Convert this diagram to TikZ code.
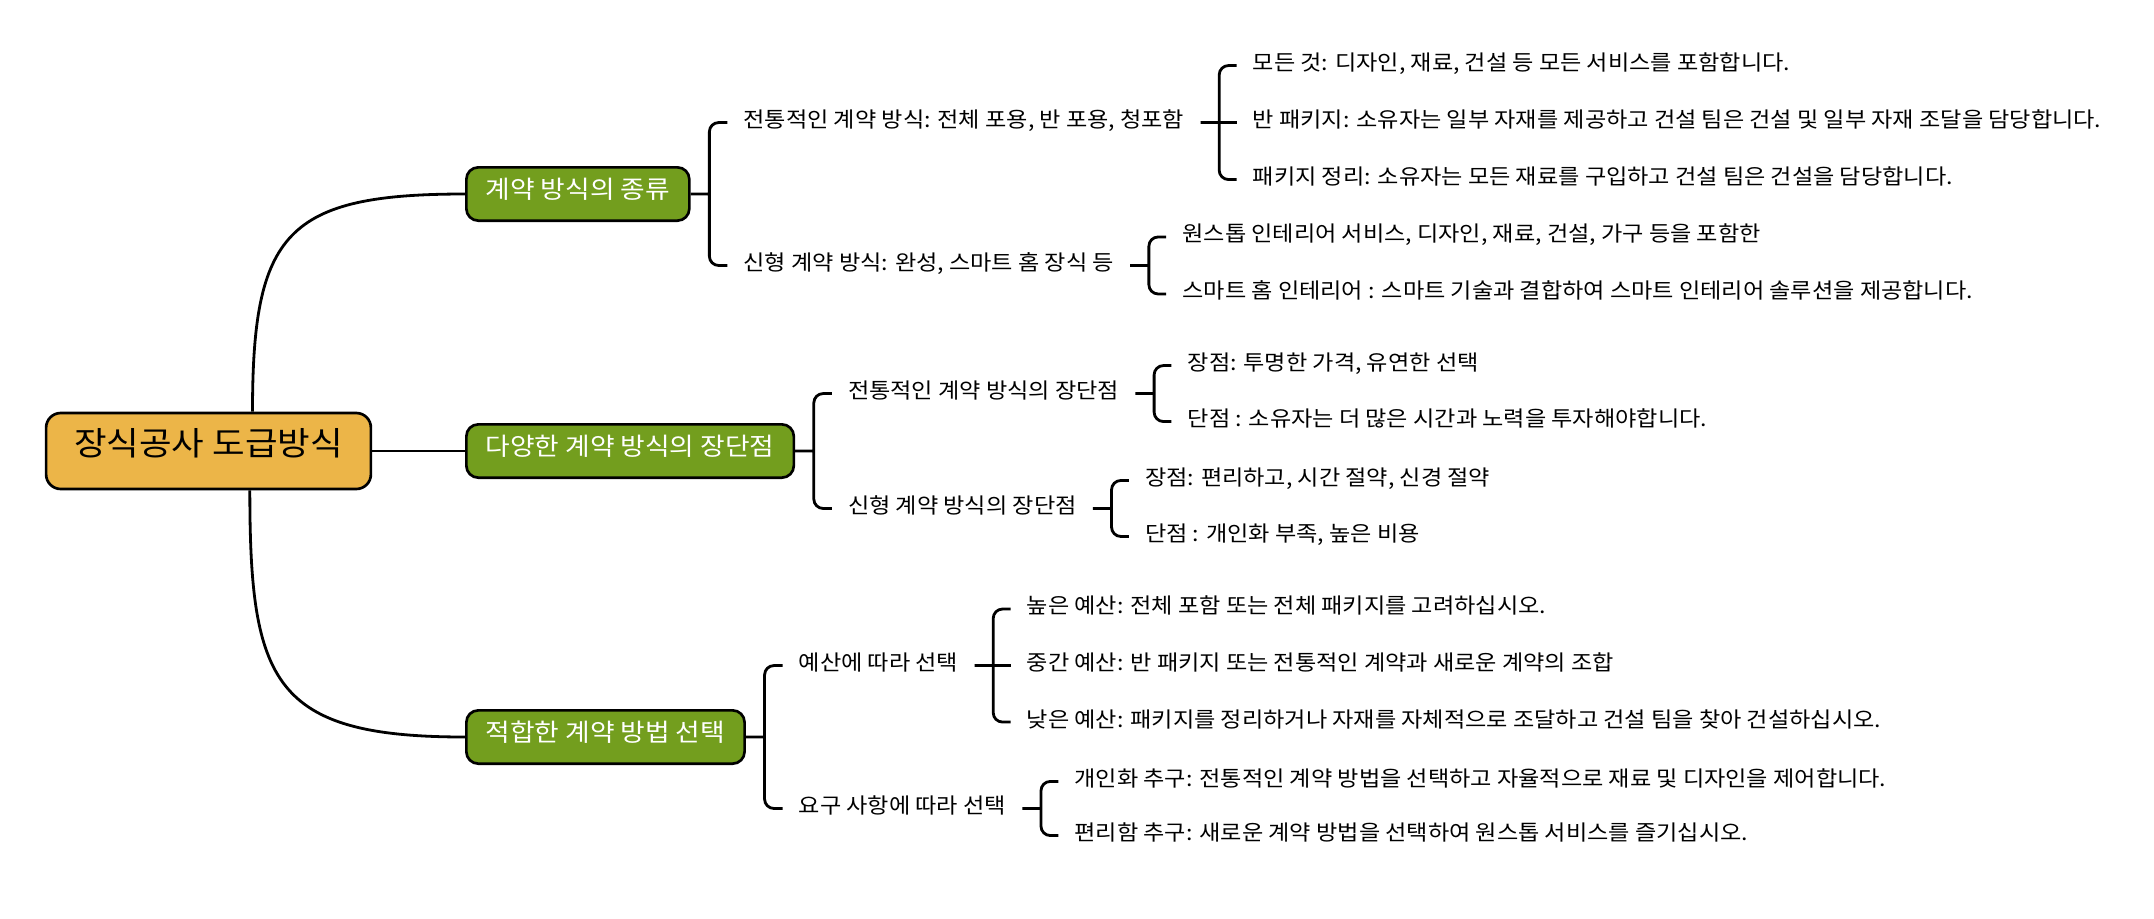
\documentclass[tikz,border=0pt]{standalone}
\usepackage{fontspec}
\setmainfont{Noto Sans CJK KR}[FakeStretch=1.085]
\usetikzlibrary{positioning,calc}
\definecolor{rootgold}{RGB}{236,181,72}
\definecolor{topicgreen}{RGB}{115,158,30}

\begin{document}
\begin{tikzpicture}[x=0.75pt,y=-0.75pt,
  every node/.style={text height=0.8em,text depth=0.06em},
  rootbox/.style={draw=black,fill=rootgold,line width=2pt,rounded corners=11pt,
                  inner xsep=21pt,minimum height=57pt,font=\fontsize{24.5}{28}\selectfont},
  topic/.style={draw=black,fill=topicgreen,text=white,line width=2pt,rounded corners=9pt,
                inner xsep=14.5pt,minimum height=40pt,font=\fontsize{18.5}{22}\selectfont},
  leaf/.style={inner xsep=12pt,inner ysep=3pt,font=\fontsize{16}{19}\selectfont},
  link/.style={line width=2.1pt,rounded corners=7pt}]
\useasboundingbox (0,0) rectangle (2154,918);

\node[rootbox] (root) at (208.5,451) {장식공사 도급방식};
\node[topic,anchor=west] (kinds) at (465,194) {계약 방식의 종류};
\node[topic,anchor=west] (pros)  at (465,451) {다양한 계약 방식의 장단점};
\node[topic,anchor=west] (pick)  at (465,737) {적합한 계약 방법 선택};

\node[leaf,right=27.5pt of kinds,yshift=53.6pt] (k1) {전통적인 계약 방식: 전체 포용, 반 포용, 청포함};
\node[leaf,right=27.5pt of kinds,yshift=-53.6pt] (k2) {신형 계약 방식: 완성, 스마트 홈 장식 등};
\node[leaf,right=27pt of k1,yshift=42.75pt] (k11) {모든 것: 디자인, 재료, 건설 등 모든 서비스를 포함합니다.};
\node[leaf,right=27pt of k1] (k12) {반 패키지: 소유자는 일부 자재를 제공하고 건설 팀은 건설 및 일부 자재 조달을 담당합니다.};
\node[leaf,right=27pt of k1,yshift=-42.75pt] (k13) {패키지 정리: 소유자는 모든 재료를 구입하고 건설 팀은 건설을 담당합니다.};
\node[leaf,right=27pt of k2,yshift=21.4pt] (k21) {원스톱 인테리어 서비스, 디자인, 재료, 건설, 가구 등을 포함한};
\node[leaf,right=27pt of k2,yshift=-21.4pt] (k22) {스마트 홈 인테리어 : 스마트 기술과 결합하여 스마트 인테리어 솔루션을 제공합니다.};

\node[leaf,right=27.5pt of pros,yshift=43.1pt] (p1) {전통적인 계약 방식의 장단점};
\node[leaf,right=27.5pt of pros,yshift=-43.1pt] (p2) {신형 계약 방식의 장단점};
\node[leaf,right=27pt of p1,yshift=21pt] (p11) {장점: 투명한 가격, 유연한 선택};
\node[leaf,right=27pt of p1,yshift=-21pt] (p12) {단점 : 소유자는 더 많은 시간과 노력을 투자해야합니다.};
\node[leaf,right=27pt of p2,yshift=21pt] (p21) {장점: 편리하고, 시간 절약, 신경 절약};
\node[leaf,right=27pt of p2,yshift=-21pt] (p22) {단점 : 개인화 부족, 높은 비용};

\node[leaf,right=27.5pt of pick,yshift=53.6pt] (c1) {예산에 따라 선택};
\node[leaf,right=27.5pt of pick,yshift=-53.6pt] (c2) {요구 사항에 따라 선택};
\node[leaf,right=27pt of c1,yshift=42.4pt] (c11) {높은 예산: 전체 포함 또는 전체 패키지를 고려하십시오.};
\node[leaf,right=27pt of c1] (c12) {중간 예산: 반 패키지 또는 전통적인 계약과 새로운 계약의 조합};
\node[leaf,right=27pt of c1,yshift=-42.4pt] (c13) {낮은 예산: 패키지를 정리하거나 자재를 자체적으로 조달하고 건설 팀을 찾아 건설하십시오.};
\node[leaf,right=27pt of c2,yshift=20.3pt] (c21) {개인화 추구: 전통적인 계약 방법을 선택하고 자율적으로 재료 및 디자인을 제어합니다.};
\node[leaf,right=27pt of c2,yshift=-20.3pt] (c22) {편리함 추구: 새로운 계약 방법을 선택하여 원스톱 서비스를 즐기십시오.};

\draw[link] ([xshift=33pt]root.north) to[out=90,in=180,looseness=1.5] (kinds.west);
\draw[link] (root.east) -- (pros.west);
\draw[link] ([xshift=31pt]root.south) to[out=-90,in=180,looseness=1.5] (pick.west);
\foreach \p/\a/\b in {kinds/k1/k2, k1/k11/k13, k2/k21/k22, pros/p1/p2, p1/p11/p12,
                      p2/p21/p22, pick/c1/c2, c1/c11/c13, c2/c21/c22}
  \draw[link] (\p.east) -- ++(14pt,0) (\a.west) -| ($(\p.east)+(14pt,0)$) |- (\b.west);
\foreach \p/\m in {k1/k12, c1/c12}
  \draw[link] (\p.east) -- (\m.west);
\end{tikzpicture}
\end{document}
